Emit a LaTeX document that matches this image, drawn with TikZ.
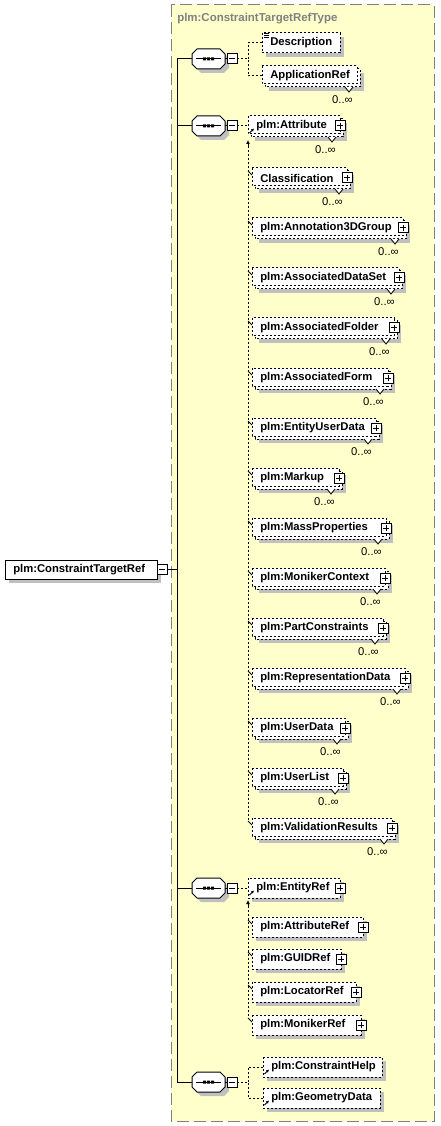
\documentclass[tikz,border=0pt]{standalone}
\usepackage{fontspec}
\setmainfont{Liberation Sans}
\usetikzlibrary{arrows.meta}
\definecolor{panelfill}{HTML}{FFFFCC}
\definecolor{shadowgray}{HTML}{C0C0C0}
\definecolor{framegray}{HTML}{808080}
\tikzset{
  boxline/.style={draw=black, line width=0.75pt, dash pattern=on 1.5pt off 1.5pt},
  solidline/.style={draw=black, line width=0.75pt},
  conn/.style={draw=black, line width=0.75pt, dash pattern=on 1.5pt off 1.5pt},
  trunk/.style={draw=black, line width=0.75pt},
  thinline/.style={draw=black, line width=0.6pt},
  elname/.style={font=\bfseries\fontsize{8.45}{10}\selectfont, anchor=west, inner sep=0pt},
  occlabel/.style={font=\fontsize{8.45}{10}\selectfont, anchor=east, inner sep=0pt},
  titlelabel/.style={font=\bfseries\fontsize{8.6}{10}\selectfont, text=framegray, anchor=west, inner sep=0pt},
}
\newcommand\PlusBox[2]{%
  \draw[solidline,fill=white] ({#1-5},{#2-5}) rectangle ({#1+5},{#2+5});
  \draw[solidline] ({#1-3},#2) -- ({#1+3},#2) (#1,{#2-3}) -- (#1,{#2+3});}
\newcommand\SingleBox[5]{%
  \fill[shadowgray] ({#2+4},{#4-6}) rectangle ({#3+4},{#4+14});
  \path[boxline,fill=white] (#2,{#4-10}) rectangle (#3,{#4+10});
  \node[elname] (#1) at ({#2+8},#4) {#5};
  \coordinate (#1-w) at (#2,#4);}
\newcommand\MultiBox[5]{%
  \fill[shadowgray] ({#2+7},{#4-3}) rectangle ({#3+7},{#4+15});
  \path[boxline,fill=white] ({#2+3},{#4-7}) rectangle ({#3+3},{#4+11});
  \path[boxline,fill=white] (#2,{#4-10}) rectangle (#3,{#4+8});
  \path[thinline,fill=white] ({#3-12},{#4+11}) -- ({#3-8},{#4+16}) -- ({#3-4},{#4+11});
  \node[elname] (#1) at ({#2+8},#4) {#5};
  \node[occlabel] (#1-occ) at ({#3-4},{#4+24}) {0..∞};
  \coordinate (#1-w) at (#2,#4);}
\newcommand\RefMark[2]{%
  \draw[thinline,-{Latex[length=2.2pt,width=2.4pt]}] ({#1+1.5},{#2+7}) -- ({#1+6},{#2+2.5});}
\newcommand\SubNotch[3]{%
  \coordinate (#1-s) at ({#2-4},{#3+3});
  \coordinate (#1-n) at (#2,{#3+7});
  \draw[thinline] (#1-s) -- (#1-n);}
\newcommand\SeqSym[2]{%
  \fill[shadowgray] (201,{#2-6}) -- (224,{#2-6}) -- (229,{#2-1}) -- (229,{#2+9}) -- (224,{#2+14}) -- (201,{#2+14}) -- (196,{#2+9}) -- (196,{#2-1}) -- cycle;
  \draw[solidline,fill=white] (197,{#2-10}) -- (220,{#2-10}) -- (225,{#2-5}) -- (225,{#2+5}) -- (220,{#2+10}) -- (197,{#2+10}) -- (192,{#2+5}) -- (192,{#2-5}) -- cycle;
  \draw[solidline] (196,#2) -- (221,#2);
  \fill (203,{#2-1.5}) rectangle (206,{#2+1.5}) (207,{#2-1.5}) rectangle (210,{#2+1.5}) (211,{#2-1.5}) rectangle (214,{#2+1.5});
  \draw[solidline] (225,#2) -- (227,#2);
  \draw[solidline,fill=white] (227,{#2-5}) rectangle (237,{#2+5});
  \draw[solidline] (229,#2) -- (235,#2);
  \coordinate (#1) at (192,#2);
  \coordinate (#1-out) at (237,#2);}
\begin{document}
\begin{tikzpicture}[x=0.75pt,y=-0.75pt]
\useasboundingbox (0,0) rectangle (440,1126);
\fill[white] (0,0) rectangle (440,1126);
\path[draw=framegray, line width=0.75pt, dash pattern=on 9pt off 3.75pt, fill=panelfill] (171,5) rectangle (434,1121);
\node[titlelabel] (title) at (177,19) {plm:ConstraintTargetRefType};
% root
\fill[shadowgray] (9,564) rectangle (161,583);
\draw[solidline,fill=white] (5,560) rectangle (157,579);
\node[elname] (root) at (13,569.5) {plm:ConstraintTargetRef};
\draw[solidline,fill=white] (157,564) rectangle (167,574);
\draw[solidline] (159,569) -- (165,569);
\coordinate (root-out) at (167,569);
% trunk
\coordinate (trunkTop) at (177,59);
\coordinate (trunkBot) at (177,1082);
\draw[trunk] (trunkTop) -- (trunkBot);
\draw[trunk] (root-out) -- (root-out -| trunkTop);
\SeqSym{s1}{59}
\SeqSym{s2}{126}
\SeqSym{s3}{888}
\SeqSym{s4}{1082}
\foreach \s in {s1,s2,s3,s4} {\draw[trunk] (\s) -- (\s -| trunkTop);}
% group 1
\SingleBox{desc}{262}{340}{43}{Description}
\draw[line width=0.5pt] (264,33.8) -- (268.5,33.8) (264,35.4) -- (268.5,35.4) (264,37) -- (268.5,37);
\MultiBox{appr}{262}{357}{76}{ApplicationRef}
\coordinate (j1) at (248,59);
\draw[conn] (s1-out) -- (j1);
\draw[conn] (desc-w) -| (j1);
\draw[conn] (appr-w) -| (j1);
% group 2
\MultiBox{attr}{248}{340}{126}{plm:Attribute}
\PlusBox{340}{126}
\RefMark{248}{126}
\draw[conn] (s2-out) -- (attr-w);
\foreach \nm/\tx/\xr/\yc in {cls/Classification/347/178, a3d/plm:Annotation3DGroup/403/228, ads/plm:AssociatedDataSet/399/278, afo/plm:AssociatedFolder/394/328, afm/plm:AssociatedForm/388/378, eud/plm:EntityUserData/376/428, mkp/plm:Markup/339/478, msp/plm:MassProperties/386/528, mnc/plm:MonikerContext/385/578, ptc/plm:PartConstraints/383/628, rpd/plm:RepresentationData/405/678, usd/plm:UserData/345/728, usl/plm:UserList/343/778, vrs/plm:ValidationResults/392/828} {
  \MultiBox{\nm}{252}{\xr}{\yc}{\tx}
  \PlusBox{\xr}{\yc}
  \SubNotch{\nm}{252}{\yc-10}
}
\coordinate (sub2tip) at (248,140);
\coordinate (sub2base) at (248,146);
\draw[conn] (sub2base) -- (vrs-s);
\draw[thinline,-{Latex[length=3pt,width=3pt]}] (sub2base) -- (sub2tip);
% group 3
\SingleBox{entref}{248}{340}{888}{plm:EntityRef}
\PlusBox{340}{888}
\RefMark{248}{888}
\draw[conn] (s3-out) -- (entref-w);
\foreach \nm/\tx/\xr/\yc in {atr/plm:AttributeRef/363/927, gui/plm:GUIDRef/341/959, loc/plm:LocatorRef/356/992, mon/plm:MonikerRef/361/1025} {
  \SingleBox{\nm}{252}{\xr}{\yc}{\tx}
  \PlusBox{\xr}{\yc}
  \SubNotch{\nm}{252}{\yc-10}
}
\coordinate (sub3tip) at (248,900);
\coordinate (sub3base) at (248,906);
\draw[conn] (sub3base) -- (mon-s);
\draw[thinline,-{Latex[length=3pt,width=3pt]}] (sub3base) -- (sub3tip);
% group 4
\SingleBox{chp}{263}{382}{1067}{plm:ConstraintHelp}
\RefMark{263}{1067}
\SingleBox{geo}{263}{380}{1098}{plm:GeometryData}
\RefMark{263}{1098}
\coordinate (j4) at (248,1082);
\draw[conn] (s4-out) -- (j4);
\draw[conn] (chp-w) -| (j4);
\draw[conn] (geo-w) -| (j4);
\end{tikzpicture}
\end{document}
